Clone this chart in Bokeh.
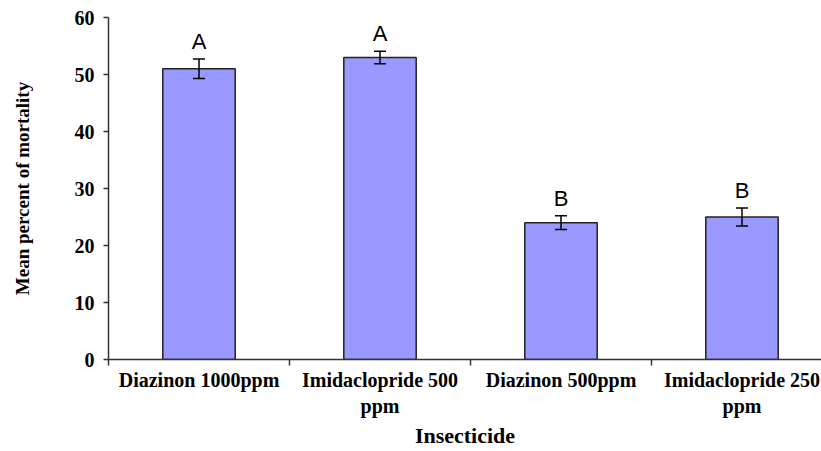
from bokeh.plotting import figure
from bokeh.models import ColumnDataSource, Range1d, FixedTicker, Whisker, TeeHead
from bokeh.core.properties import value
from bokeh.embed import file_html
from bokeh.resources import INLINE

# ---- data ----
categories = ["Diazinon 1000ppm", "Imidaclopride 500\nppm", "Diazinon 500ppm", "Imidaclopride 250\nppm"]
means = [51, 53, 24, 25]
errors = [1.7, 1.1, 1.2, 1.6]
letters = ["A", "A", "B", "B"]
y_ticks = [0, 10, 20, 30, 40, 50, 60]

xs = [i + 0.5 for i in range(len(categories))]
src = ColumnDataSource(dict(
    x=xs, top=means,
    upper=[m + e for m, e in zip(means, errors)],
    lower=[m - e for m, e in zip(means, errors)],
    letter=letters,
))

p = figure(width=821, height=451, output_backend="svg", toolbar_location=None,
           x_range=Range1d(0, 713 / 181), y_range=Range1d(0, 60),
           min_border_left=108, min_border_right=0, min_border_top=17, min_border_bottom=92)
p.outline_line_color = None
p.xgrid.visible = False
p.ygrid.visible = False
p.background_fill_color = "white"
p.border_fill_color = "white"

p.vbar(x="x", top="top", width=0.40, bottom=0, source=src,
       fill_color="#9999FF", line_color="#222222", line_width=1.5)

w = Whisker(base="x", upper="upper", lower="lower", source=src,
            line_color="black", line_width=1.5, level="overlay",
            upper_head=TeeHead(size=12, line_width=1.5, line_color="black"),
            lower_head=TeeHead(size=12, line_width=1.5, line_color="black"))
p.add_layout(w)

p.text(x="x", y="upper", text="letter", source=src, text_align="center",
       text_baseline="bottom", y_offset=-5, text_font=value("Liberation Sans"),
       text_font_size="22px", text_color="black")

serif = "Liberation Serif"
# x axis
p.xaxis.ticker = FixedTicker(ticks=xs, minor_ticks=[0, 1, 2, 3])
p.xaxis.major_label_overrides = {x: c for x, c in zip(xs, categories)}
p.xaxis.major_tick_out = 0
p.xaxis.major_tick_in = 0
p.xaxis.minor_tick_out = 6
p.xaxis.minor_tick_in = 0
p.xaxis.axis_label = "Insecticide"
p.xaxis.major_label_standoff = 3
p.xaxis.axis_label_standoff = 3

# y axis
p.yaxis.ticker = FixedTicker(ticks=y_ticks, minor_ticks=[])
p.yaxis.major_tick_out = 5
p.yaxis.major_tick_in = 0
p.yaxis.minor_tick_out = 0
p.yaxis.minor_tick_in = 0
p.yaxis.axis_label = "Mean percent of mortality"
p.yaxis.major_label_standoff = 9
p.yaxis.axis_label_standoff = 39

for ax in (p.xaxis[0], p.yaxis[0]):
    ax.axis_line_color = "#333333"
    ax.axis_line_width = 1.5
    ax.major_tick_line_color = "#333333"
    ax.major_tick_line_width = 1.5
    ax.minor_tick_line_color = "#333333"
    ax.minor_tick_line_width = 1.5
    ax.major_label_text_font = serif
    ax.major_label_text_font_style = "bold"
    ax.major_label_text_color = "black"
    ax.axis_label_text_font = serif
    ax.axis_label_text_font_style = "bold"
    ax.axis_label_text_color = "black"

p.xaxis.major_label_text_font_size = "20px"
p.yaxis.major_label_text_font_size = "20px"
p.xaxis.axis_label_text_font_size = "22px"
p.yaxis.axis_label_text_font_size = "19px"

open("out.html", "w").write(file_html(p, INLINE))
